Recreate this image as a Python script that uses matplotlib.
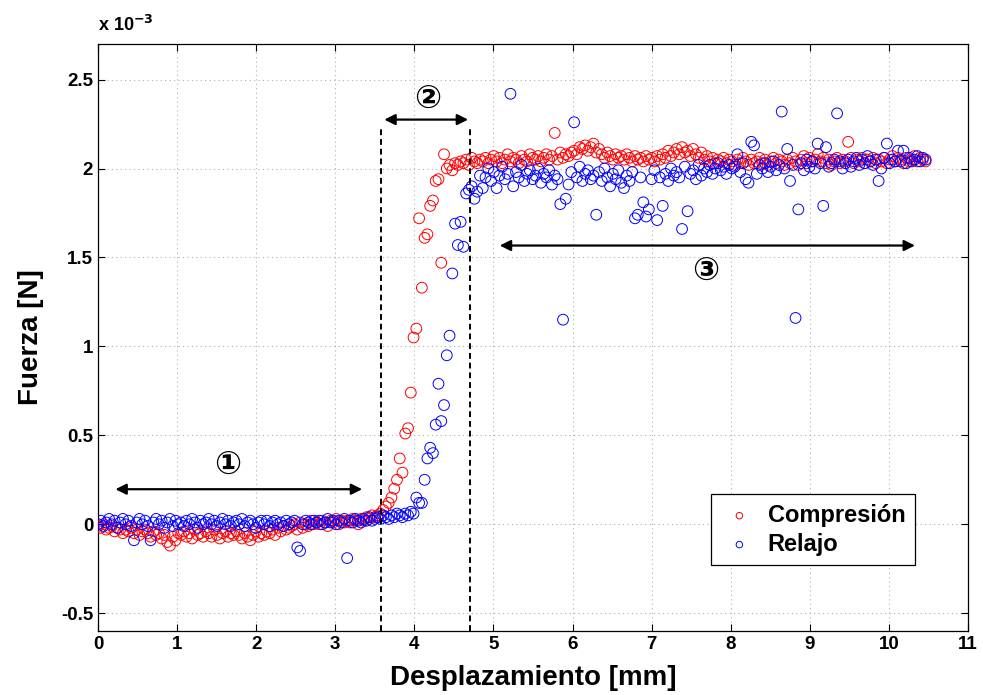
import numpy as np
import matplotlib
matplotlib.use("Agg")
import matplotlib.pyplot as plt
from matplotlib.ticker import FuncFormatter

plt.rcParams['font.family'] = ['Liberation Sans', 'DejaVu Sans']

# displacement sampling step [mm] and number of samples
step_mm = 0.035
n_samples = 300

# force in units of 1e-3 N
compresion = [
    -0.01, -0.02, 0.00, -0.03, -0.02, -0.01, -0.04, -0.02, -0.03, -0.05,
    -0.03, -0.04, -0.02, -0.05, -0.03, -0.06, -0.04, -0.03, -0.05, -0.07,
    -0.04, -0.06, -0.05, -0.08, -0.06, -0.10, -0.12, -0.07, -0.09, -0.05,
    -0.06, -0.04, -0.07, -0.05, -0.08, -0.03, -0.06, -0.05, -0.07, -0.04,
    -0.05, -0.07, -0.03, -0.06, -0.08, -0.05, -0.04, -0.07, -0.05, -0.06,
    -0.04, -0.06, -0.08, -0.05, -0.07, -0.09, -0.06, -0.04, -0.07, -0.05,
    -0.06, -0.04, -0.05, -0.03, -0.06, -0.02, -0.04, -0.01, -0.03, -0.02,
    -0.01, 0.00, -0.03, 0.01, -0.02, 0.00, -0.01, 0.02, 0.00, 0.01,
    0.00, 0.02, 0.01, -0.01, 0.02, 0.01, 0.03, 0.00, 0.02, 0.01,
    0.02, 0.01, 0.03, 0.02, 0.00, 0.03, 0.02, 0.04, 0.03, 0.05,
    0.04, 0.05, 0.06, 0.08, 0.10, 0.12, 0.15, 0.20, 0.25, 0.37,
    0.29, 0.51, 0.54, 0.74, 1.05, 1.10, 1.72, 1.33, 1.61, 1.63,
    1.79, 1.82, 1.93, 1.94, 1.47, 2.08, 2.00, 2.02, 1.99, 2.03,
    2.02, 2.04, 2.03, 2.05, 2.02, 2.06, 2.04, 2.03, 2.05, 2.04,
    2.06, 2.03, 2.05, 2.07, 2.04, 2.06, 2.03, 2.05, 2.08, 2.04,
    2.06, 2.05, 2.03, 2.07, 2.05, 2.04, 2.08, 2.06, 2.05, 2.07,
    2.04, 2.06, 2.08, 2.05, 2.07, 2.20, 2.05, 2.09, 2.06, 2.08,
    2.07, 2.09, 2.10, 2.08, 2.12, 2.11, 2.13, 2.10, 2.12, 2.14,
    2.09, 2.11, 2.08, 2.06, 2.09, 2.07, 2.05, 2.08, 2.06, 2.07,
    2.05, 2.08, 2.06, 2.04, 2.07, 2.05, 2.06, 2.04, 2.07, 2.05,
    2.06, 2.04, 2.07, 2.05, 2.08, 2.06, 2.10, 2.07, 2.09, 2.11,
    2.08, 2.12, 2.09, 2.10, 2.07, 2.11, 2.08, 2.06, 2.09, 2.05,
    2.07, 2.04, 2.06, 2.03, 2.05, 2.04, 2.06, 2.03, 2.05, 2.04,
    2.02, 2.05, 2.03, 2.06, 2.04, 2.02, 2.05, 2.03, 2.04, 2.06,
    2.03, 2.05, 2.02, 2.04, 2.06, 2.03, 2.05, 2.04, 2.02, 2.05,
    2.03, 2.06, 2.04, 2.02, 2.05, 2.07, 2.03, 2.06, 2.04, 2.05,
    2.08, 2.04, 2.06, 2.03, 2.05, 2.02, 2.04, 2.06, 2.03, 2.05,
    2.04, 2.15, 2.06, 2.03, 2.05, 2.04, 2.06, 2.03, 2.05, 2.04,
    2.06, 2.03, 2.05, 2.04, 2.06, 2.03, 2.05, 2.07, 2.04, 2.06,
    2.05, 2.03, 2.06, 2.04, 2.05, 2.07, 2.04, 2.06, 2.05, 2.04,
]

relajo = [
    0.00, 0.02, -0.01, 0.01, 0.03, 0.00, 0.02, -0.02, 0.01, 0.03,
    0.00, 0.02, -0.01, -0.09, 0.01, 0.03, 0.00, 0.02, -0.01, -0.09,
    0.01, 0.03, 0.00, 0.02, -0.02, 0.01, 0.03, -0.01, 0.02, 0.00,
    0.01, -0.01, 0.02, 0.00, 0.03, 0.01, -0.02, 0.02, 0.00, 0.01,
    0.03, 0.00, 0.02, -0.01, 0.01, 0.03, 0.00, 0.02, -0.01, 0.01,
    0.02, 0.00, 0.03, -0.01, 0.01, 0.02, 0.00, -0.02, 0.01, 0.02,
    0.00, 0.02, -0.01, 0.01, 0.02, 0.00, 0.01, -0.01, 0.02, 0.00,
    0.01, 0.02, -0.13, -0.15, 0.00, 0.02, 0.01, 0.00, 0.02, 0.01,
    0.02, 0.00, 0.01, 0.03, 0.01, 0.02, 0.00, 0.02, 0.01, 0.03,
    -0.19, 0.02, 0.01, 0.03, 0.02, 0.01, 0.03, 0.02, 0.04, 0.02,
    0.03, 0.04, 0.03, 0.05, 0.04, 0.03, 0.05, 0.04, 0.06, 0.05,
    0.04, 0.06, 0.05, 0.07, 0.06, 0.15, 0.12, 0.12, 0.25, 0.37,
    0.43, 0.40, 0.56, 0.79, 0.58, 0.67, 0.95, 1.06, 1.41, 1.69,
    1.57, 1.70, 1.56, 1.86, 1.88, 1.90, 1.83, 1.87, 1.96, 1.89,
    1.95, 2.00, 1.93, 1.98, 1.89, 1.96, 2.01, 1.94, 1.97, 2.42,
    1.90, 1.98, 1.95, 2.02, 1.93, 1.97, 1.99, 1.94, 1.96, 2.00,
    1.92, 1.97, 1.95, 1.99, 1.91, 1.96, 1.94, 1.80, 1.15, 1.83,
    1.91, 1.98, 2.26, 1.95, 2.01, 1.93, 1.97, 1.99, 1.94, 1.96,
    1.74, 1.98, 1.93, 2.00, 1.95, 1.90, 1.97, 1.94, 1.99, 1.92,
    1.89, 1.96, 1.93, 1.98, 1.72, 1.74, 1.95, 1.81, 1.73, 1.77,
    1.94, 1.99, 1.71, 1.95, 1.79, 1.97, 1.93, 2.00, 1.96, 1.98,
    1.95, 1.66, 2.01, 1.76, 1.97, 1.99, 1.94, 2.02, 1.96, 2.00,
    1.98, 2.02, 1.97, 2.00, 2.03, 1.99, 2.01, 1.97, 2.02, 2.00,
    2.01, 2.08, 1.98, 2.03, 1.94, 1.92, 2.15, 2.13, 1.97, 2.02,
    2.00, 2.03, 1.98, 2.01, 2.04, 1.99, 2.02, 2.32, 2.00, 2.11,
    1.93, 2.02, 1.16, 1.77, 2.03, 1.99, 2.05, 2.01, 2.04, 2.00,
    2.14, 2.03, 1.79, 2.12, 2.01, 2.03, 2.05, 2.31, 2.04, 2.00,
    2.03, 2.05, 2.01, 2.04, 2.06, 2.02, 2.05, 2.03, 2.07, 2.04,
    2.02, 2.05, 1.93, 2.00, 2.06, 2.14, 2.03, 2.05, 2.04, 2.10,
    2.04, 2.10, 2.03, 2.06, 2.04, 2.05, 2.07, 2.04, 2.06, 2.05,
]

x_ticks = [0, 1, 2, 3, 4, 5, 6, 7, 8, 9, 10, 11]
y_ticks = [-0.5, 0, 0.5, 1, 1.5, 2, 2.5]

desplazamiento = np.arange(n_samples) * step_mm
f_comp = np.array(compresion) * 1e-3
f_rel = np.array(relajo) * 1e-3

fig = plt.figure(figsize=(9.83, 6.95), dpi=100)
ax = fig.add_axes([0.0997, 0.0921, 0.8850, 0.8446])

ax.scatter(desplazamiento, f_comp, s=60, facecolors='none', edgecolors='#ff0000',
           linewidths=0.7, label='Compresión', zorder=3)
ax.scatter(desplazamiento, f_rel, s=60, facecolors='none', edgecolors='#0000ff',
           linewidths=0.7, label='Relajo', zorder=3)

ax.set_xlim(0, 11)
ax.set_ylim(-0.6e-3, 2.7e-3)
ax.set_xticks(x_ticks)
ax.set_yticks([v * 1e-3 for v in y_ticks])
ax.yaxis.set_major_formatter(FuncFormatter(lambda v, p: '%g' % round(v * 1e3, 3)))
ax.grid(True, linestyle=(0, (1, 3)), color='#b0b0b0', linewidth=0.8)
ax.set_axisbelow(True)
ax.tick_params(direction='in', length=5, width=0.8, labelsize=13.5, top=True, right=True)
for lab in ax.get_xticklabels() + ax.get_yticklabels():
    lab.set_fontweight('bold')
for sp in ax.spines.values():
    sp.set_linewidth(0.9)

ax.set_xlabel('Desplazamiento [mm]', fontsize=20, fontweight='bold', labelpad=9)
ax.set_ylabel('Fuerza [N]', fontsize=20, fontweight='bold', labelpad=12)
ax.text(0.0, 1.015, r'x 10$^{\mathbf{-3}}$', transform=ax.transAxes, fontsize=13,
        fontweight='bold', ha='left', va='bottom')

# region boundaries
y_top = 2.24e-3
for xv in (3.58, 4.70):
    ax.plot([xv, xv], [-0.6e-3, y_top], linestyle=(0, (3, 2)), color='k', lw=1.4, zorder=4)

arrow = dict(arrowstyle='<|-|>', color='k', lw=1.6, mutation_scale=16, shrinkA=0, shrinkB=0)
ax.annotate('', xy=(0.22, 0.197e-3), xytext=(3.34, 0.197e-3), arrowprops=arrow, zorder=5)
ax.annotate('', xy=(3.62, 2.275e-3), xytext=(4.68, 2.275e-3), arrowprops=arrow, zorder=5)
ax.annotate('', xy=(5.08, 1.567e-3), xytext=(10.33, 1.567e-3), arrowprops=arrow, zorder=5)
for label, xv, yv in (('①', 1.64, 0.33e-3), ('②', 4.17, 2.39e-3), ('③', 7.69, 1.42e-3)):
    ax.text(xv, yv, label, fontsize=23, fontweight='bold', ha='center', va='center',
            family=['DejaVu Sans'], zorder=5)

leg = ax.legend(loc='lower right', bbox_to_anchor=(0.939, 0.112), borderaxespad=0,
                prop={'weight': 'bold', 'size': 17}, frameon=True, fancybox=False,
                edgecolor='k', framealpha=1, markerscale=0.6, handletextpad=0.4,
                handlelength=1.6, borderpad=0.4, labelspacing=0.25)
leg.get_frame().set_linewidth(0.9)

fig.savefig('out.png', dpi=100)
